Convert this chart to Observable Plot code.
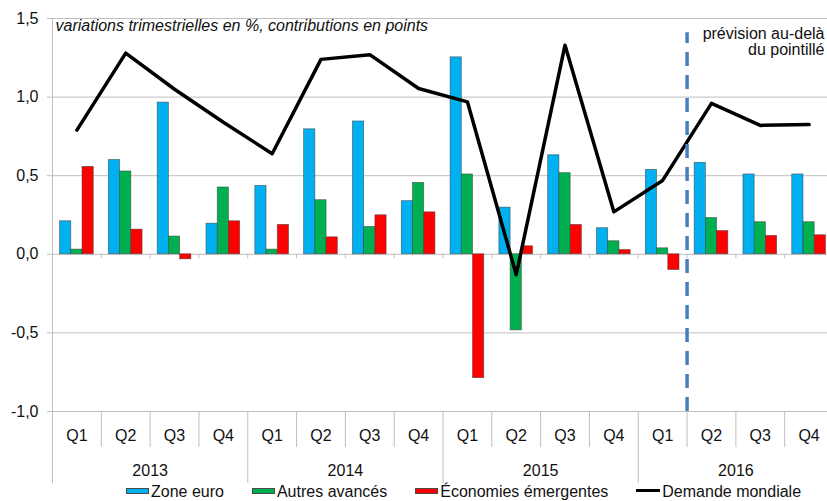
<!DOCTYPE html>
<html>
<head>
<meta charset="utf-8">
<script src="https://cdn.jsdelivr.net/npm/d3@7"></script>
<script src="https://cdn.jsdelivr.net/npm/@observablehq/plot@0.6"></script>
<style>
  html, body { margin: 0; padding: 0; background: #fff; }
  body { width: 827px; height: 501px; overflow: hidden; font-family: "Liberation Sans", Arial, sans-serif; }
  #legend { display: flex; align-items: center; height: 18px; line-height: 18px; padding-left: 126px; font-size: 16px; color: #111; white-space: nowrap; }
  #legend .item { display: flex; align-items: center; margin-right: 28px; }
  #legend .sw { width: 23px; height: 6px; box-sizing: border-box; border: 1px solid #4a4a4a; margin-right: 2px; margin-top: -3px; }
  #legend .ln { width: 24px; height: 3px; background: #000; margin-right: 2px; margin-top: -3px; }
</style>
</head>
<body>
<div id="chart"></div>
<div id="legend"></div>
<script>
// ---- data ----
const years = ["2013", "2014", "2015", "2016"];
const quarters = ["Q1","Q2","Q3","Q4","Q1","Q2","Q3","Q4","Q1","Q2","Q3","Q4","Q1","Q2","Q3","Q4"];
const seriesNames = ["Zone euro", "Autres avancés", "Économies émergentes"];
const lineName = "Demande mondiale";
const zoneEuro   = [0.21, 0.60, 0.965, 0.195, 0.435, 0.795, 0.845, 0.338, 1.253, 0.297, 0.63, 0.166, 0.537, 0.582, 0.508, 0.508];
const autresAv   = [0.03, 0.527, 0.113, 0.425, 0.03, 0.344, 0.174, 0.454, 0.508, -0.484, 0.516, 0.083, 0.038, 0.231, 0.204, 0.204];
const emergentes = [0.556, 0.157, -0.032, 0.21, 0.187, 0.108, 0.248, 0.267, -0.788, 0.051, 0.187, 0.027, -0.10, 0.148, 0.117, 0.121];
const demande    = [0.79, 1.28, 1.05, 0.84, 0.64, 1.24, 1.27, 1.055, 0.97, -0.13, 1.33, 0.27, 0.47, 0.96, 0.82, 0.825];
const yTicks = [-1, -0.5, 0, 0.5, 1, 1.5];
const subtitle = "variations trimestrielles en %, contributions en points";
const annotation = "prévision au-delà\ndu pointillé";
const forecastStart = 13; // first forecast quarter index (2016 Q2)
const forecastTop = 1.41;

// ---- styles ----
const colors = ["#00B0F0", "#00B050", "#FF0000"];
const gray = "#bfbfbf";
const groupOffset = 0.155, barW = 0.23;

const rows = [];
[zoneEuro, autresAv, emergentes].forEach((arr, k) => {
  arr.forEach((v, i) => rows.push({i, k, series: seriesNames[k], value: v}));
});
const n = quarters.length;
const qDividers = d3.range(1, n).filter(i => i % 4 !== 0);
const yDividers = d3.range(0, n + 1, 4);

const plot = Plot.plot({
  width: 827,
  height: 483,
  marginLeft: 52,
  marginRight: -6,
  marginTop: 18,
  marginBottom: 72,
  style: { fontFamily: "'Liberation Sans', Arial, sans-serif", fontSize: "16px", color: "#111", background: "#fff", overflow: "hidden" },
  x: { type: "linear", domain: [0, n] },
  y: { domain: [-1, 1.5] },
  color: { domain: seriesNames, range: colors },
  marks: [
    Plot.gridY(yTicks, { stroke: gray, strokeOpacity: 1 }),
    Plot.axisY({ ticks: yTicks, tickSize: 5, tickPadding: 9, stroke: gray, fill: "#111", label: null,
                 tickFormat: d => d.toFixed(1).replace(".", ",") }),
    Plot.ruleX([0], { stroke: gray }),
    Plot.ruleX(qDividers.concat(yDividers.slice(1, -1)), { y1: 0, y2: -0.028, stroke: gray }),
    Plot.axisX({ ticks: qDividers, tickSize: 36, tickFormat: () => "", stroke: gray, label: null }),
    Plot.axisX({ ticks: yDividers, tickSize: 72, tickFormat: () => "", stroke: gray, label: null }),
    Plot.axisX({ ticks: d3.range(n).map(i => i + 0.5), tickSize: 0, tickPadding: 18, label: null,
                 fill: "#111", tickFormat: d => quarters[Math.floor(d)] }),
    Plot.axisX({ ticks: years.map((y, j) => j * 4 + 2), tickSize: 0, tickPadding: 53, label: null,
                 fill: "#111", tickFormat: d => years[Math.floor(d / 4)] }),
    Plot.rect(rows, {
      x1: d => d.i + groupOffset + d.k * barW,
      x2: d => d.i + groupOffset + (d.k + 1) * barW,
      y1: 0, y2: "value", fill: "series",
      stroke: "#3c3c3c", strokeWidth: 0.7, strokeOpacity: 0.7
    }),
    Plot.line(demande, { x: (d, i) => i + 0.5, y: d => d, stroke: "#000", strokeWidth: 3.5, strokeLinejoin: "round" }),
    Plot.ruleX([forecastStart], { y1: -1, y2: forecastTop, stroke: "#4a7ebb", strokeWidth: 3.5, strokeDasharray: "14,9" }),
    Plot.text([subtitle], { text: d => d, frameAnchor: "top-left", lineAnchor: "top", textAnchor: "start",
                            dx: 3, dy: 1, fontStyle: "italic", fontSize: 16, fill: "#111" }),
    Plot.text([annotation], { text: d => d, frameAnchor: "top-right", lineAnchor: "top", textAnchor: "end",
                              dx: -9, dy: 9, lineHeight: 1.0, fontSize: 16, fill: "#111" })
  ]
});
document.getElementById("chart").appendChild(plot);

// ---- legend ----
const legend = document.getElementById("legend");
seriesNames.forEach((name, k) => {
  const it = document.createElement("div"); it.className = "item";
  const sw = document.createElement("div"); sw.className = "sw"; sw.style.background = colors[k];
  const t = document.createElement("span"); t.textContent = name;
  it.append(sw, t); legend.append(it);
});
{
  const it = document.createElement("div"); it.className = "item";
  const sw = document.createElement("div"); sw.className = "ln";
  const t = document.createElement("span"); t.textContent = lineName;
  it.append(sw, t); legend.append(it);
}
</script>
</body>
</html>
